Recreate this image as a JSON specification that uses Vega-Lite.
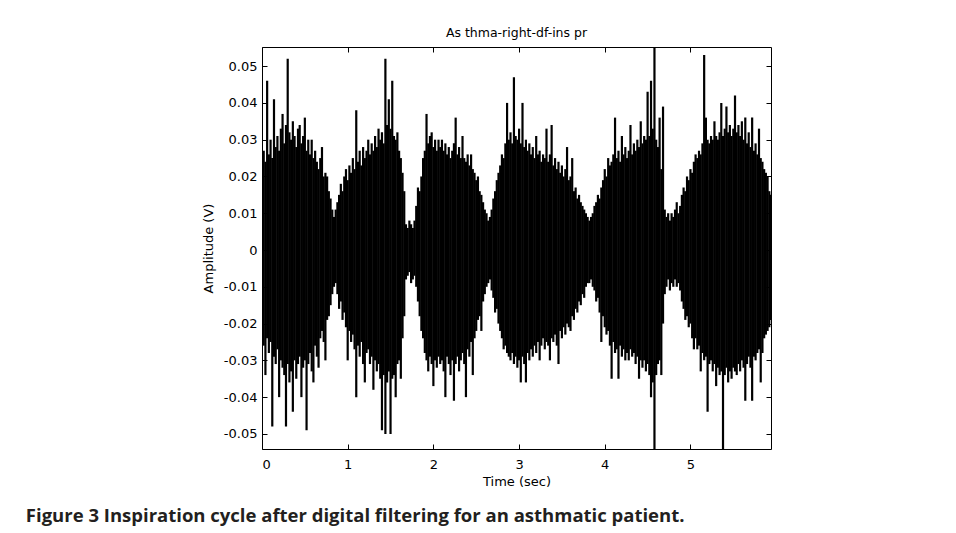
{
  "$schema": "https://vega.github.io/schema/vega-lite/v6.json",
  "background": "white",
  "padding": {"left": 25, "top": 26, "right": 5, "bottom": 5},
  "title": {"text": "Figure 3 Inspiration cycle after digital filtering for an asthmatic patient.", "orient": "bottom", "anchor": "start", "frame": "bounds", "font": "Open Sans", "fontSize": 18.5, "fontWeight": "bold", "color": "#231f20", "dx": -176, "offset": 18},
  "config": {"view": {"stroke": "black", "strokeWidth": 1}, "font": "DejaVu Sans"},
  "vconcat": [
    {
      "width": 509,
      "height": 402,
      "title": {"text": "As thma-right-df-ins pr", "font": "DejaVu Sans", "fontSize": 12.5, "fontWeight": "normal", "color": "black", "offset": 5},
      "data": {"values": [
        {"t":0.00,"h":0.022,"l":-0.020},{"t":0.02,"h":0.027,"l":-0.026},{"t":0.04,"h":0.024,"l":-0.034},{"t":0.06,"h":0.046,"l":-0.024},{"t":0.08,"h":0.026,"l":-0.028},
        {"t":0.10,"h":0.030,"l":-0.025},{"t":0.12,"h":0.025,"l":-0.048},{"t":0.14,"h":0.041,"l":-0.029},{"t":0.16,"h":0.028,"l":-0.031},{"t":0.18,"h":0.031,"l":-0.027},
        {"t":0.20,"h":0.027,"l":-0.040},{"t":0.22,"h":0.033,"l":-0.030},{"t":0.24,"h":0.037,"l":-0.032},{"t":0.26,"h":0.029,"l":-0.034},{"t":0.28,"h":0.034,"l":-0.048},
        {"t":0.30,"h":0.052,"l":-0.031},{"t":0.32,"h":0.032,"l":-0.036},{"t":0.34,"h":0.030,"l":-0.033},{"t":0.36,"h":0.035,"l":-0.044},{"t":0.38,"h":0.031,"l":-0.030},
        {"t":0.40,"h":0.028,"l":-0.035},{"t":0.42,"h":0.033,"l":-0.031},{"t":0.44,"h":0.034,"l":-0.029},{"t":0.46,"h":0.029,"l":-0.040},{"t":0.48,"h":0.031,"l":-0.032},
        {"t":0.50,"h":0.036,"l":-0.030},{"t":0.52,"h":0.027,"l":-0.049},{"t":0.54,"h":0.030,"l":-0.031},{"t":0.56,"h":0.026,"l":-0.028},{"t":0.58,"h":0.030,"l":-0.033},
        {"t":0.60,"h":0.025,"l":-0.036},{"t":0.62,"h":0.027,"l":-0.026},{"t":0.64,"h":0.024,"l":-0.029},{"t":0.66,"h":0.022,"l":-0.032},{"t":0.68,"h":0.025,"l":-0.024},
        {"t":0.70,"h":0.028,"l":-0.022},{"t":0.72,"h":0.020,"l":-0.025},{"t":0.74,"h":0.021,"l":-0.030},{"t":0.76,"h":0.020,"l":-0.019},{"t":0.78,"h":0.016,"l":-0.018},
        {"t":0.80,"h":0.014,"l":-0.015},{"t":0.82,"h":0.011,"l":-0.012},{"t":0.84,"h":0.009,"l":-0.010},{"t":0.86,"h":0.011,"l":-0.009},{"t":0.88,"h":0.013,"l":-0.012},
        {"t":0.90,"h":0.015,"l":-0.016},{"t":0.92,"h":0.018,"l":-0.014},{"t":0.94,"h":0.016,"l":-0.019},{"t":0.96,"h":0.020,"l":-0.017},{"t":0.98,"h":0.022,"l":-0.021},
        {"t":1.00,"h":0.019,"l":-0.030},{"t":1.02,"h":0.023,"l":-0.022},{"t":1.04,"h":0.021,"l":-0.025},{"t":1.06,"h":0.025,"l":-0.023},{"t":1.08,"h":0.022,"l":-0.027},
        {"t":1.10,"h":0.038,"l":-0.040},{"t":1.12,"h":0.024,"l":-0.026},{"t":1.14,"h":0.027,"l":-0.029},{"t":1.16,"h":0.023,"l":-0.025},{"t":1.18,"h":0.028,"l":-0.031},
        {"t":1.20,"h":0.025,"l":-0.036},{"t":1.22,"h":0.027,"l":-0.028},{"t":1.24,"h":0.030,"l":-0.027},{"t":1.26,"h":0.026,"l":-0.031},{"t":1.28,"h":0.029,"l":-0.029},
        {"t":1.30,"h":0.027,"l":-0.038},{"t":1.32,"h":0.031,"l":-0.030},{"t":1.34,"h":0.028,"l":-0.033},{"t":1.36,"h":0.033,"l":-0.031},{"t":1.38,"h":0.030,"l":-0.035},
        {"t":1.40,"h":0.032,"l":-0.049},{"t":1.42,"h":0.029,"l":-0.034},{"t":1.44,"h":0.052,"l":-0.050},{"t":1.46,"h":0.034,"l":-0.036},{"t":1.48,"h":0.041,"l":-0.033},
        {"t":1.50,"h":0.033,"l":-0.050},{"t":1.52,"h":0.046,"l":-0.035},{"t":1.54,"h":0.031,"l":-0.034},{"t":1.56,"h":0.030,"l":-0.040},{"t":1.58,"h":0.032,"l":-0.031},
        {"t":1.60,"h":0.027,"l":-0.030},{"t":1.62,"h":0.025,"l":-0.035},{"t":1.64,"h":0.021,"l":-0.024},{"t":1.66,"h":0.016,"l":-0.018},{"t":1.68,"h":0.007,"l":-0.008},
        {"t":1.70,"h":0.006,"l":-0.007},{"t":1.72,"h":0.008,"l":-0.006},{"t":1.74,"h":0.007,"l":-0.009},{"t":1.76,"h":0.006,"l":-0.008},{"t":1.78,"h":0.008,"l":-0.007},
        {"t":1.80,"h":0.012,"l":-0.010},{"t":1.82,"h":0.017,"l":-0.014},{"t":1.84,"h":0.016,"l":-0.018},{"t":1.86,"h":0.020,"l":-0.022},{"t":1.88,"h":0.025,"l":-0.024},
        {"t":1.90,"h":0.027,"l":-0.028},{"t":1.92,"h":0.037,"l":-0.030},{"t":1.94,"h":0.029,"l":-0.033},{"t":1.96,"h":0.031,"l":-0.029},{"t":1.98,"h":0.032,"l":-0.031},
        {"t":2.00,"h":0.028,"l":-0.037},{"t":2.02,"h":0.030,"l":-0.030},{"t":2.04,"h":0.027,"l":-0.032},{"t":2.06,"h":0.030,"l":-0.029},{"t":2.08,"h":0.028,"l":-0.031},
        {"t":2.10,"h":0.030,"l":-0.030},{"t":2.12,"h":0.027,"l":-0.033},{"t":2.14,"h":0.029,"l":-0.040},{"t":2.16,"h":0.026,"l":-0.029},{"t":2.18,"h":0.028,"l":-0.031},
        {"t":2.20,"h":0.025,"l":-0.034},{"t":2.22,"h":0.027,"l":-0.030},{"t":2.24,"h":0.029,"l":-0.041},{"t":2.26,"h":0.036,"l":-0.031},{"t":2.28,"h":0.026,"l":-0.029},
        {"t":2.30,"h":0.028,"l":-0.033},{"t":2.32,"h":0.025,"l":-0.030},{"t":2.34,"h":0.031,"l":-0.028},{"t":2.36,"h":0.025,"l":-0.031},{"t":2.38,"h":0.024,"l":-0.040},
        {"t":2.40,"h":0.026,"l":-0.027},{"t":2.42,"h":0.023,"l":-0.029},{"t":2.44,"h":0.026,"l":-0.025},{"t":2.46,"h":0.022,"l":-0.034},{"t":2.48,"h":0.021,"l":-0.024},
        {"t":2.50,"h":0.019,"l":-0.022},{"t":2.52,"h":0.020,"l":-0.019},{"t":2.54,"h":0.016,"l":-0.018},{"t":2.56,"h":0.015,"l":-0.022},{"t":2.58,"h":0.013,"l":-0.014},
        {"t":2.60,"h":0.011,"l":-0.012},{"t":2.62,"h":0.010,"l":-0.010},{"t":2.64,"h":0.008,"l":-0.009},{"t":2.66,"h":0.009,"l":-0.008},{"t":2.68,"h":0.011,"l":-0.011},
        {"t":2.70,"h":0.014,"l":-0.013},{"t":2.72,"h":0.016,"l":-0.017},{"t":2.74,"h":0.019,"l":-0.016},{"t":2.76,"h":0.021,"l":-0.020},{"t":2.78,"h":0.023,"l":-0.022},
        {"t":2.80,"h":0.026,"l":-0.024},{"t":2.82,"h":0.025,"l":-0.027},{"t":2.84,"h":0.029,"l":-0.026},{"t":2.86,"h":0.040,"l":-0.028},{"t":2.88,"h":0.030,"l":-0.029},
        {"t":2.90,"h":0.032,"l":-0.030},{"t":2.92,"h":0.029,"l":-0.028},{"t":2.94,"h":0.047,"l":-0.031},{"t":2.96,"h":0.031,"l":-0.029},{"t":2.98,"h":0.030,"l":-0.032},
        {"t":3.00,"h":0.033,"l":-0.030},{"t":3.02,"h":0.029,"l":-0.036},{"t":3.04,"h":0.040,"l":-0.029},{"t":3.06,"h":0.028,"l":-0.031},{"t":3.08,"h":0.030,"l":-0.036},
        {"t":3.10,"h":0.027,"l":-0.028},{"t":3.12,"h":0.029,"l":-0.030},{"t":3.14,"h":0.026,"l":-0.027},{"t":3.16,"h":0.028,"l":-0.029},{"t":3.18,"h":0.025,"l":-0.026},
        {"t":3.20,"h":0.031,"l":-0.028},{"t":3.22,"h":0.026,"l":-0.025},{"t":3.24,"h":0.027,"l":-0.030},{"t":3.26,"h":0.024,"l":-0.026},{"t":3.28,"h":0.026,"l":-0.024},
        {"t":3.30,"h":0.025,"l":-0.027},{"t":3.32,"h":0.033,"l":-0.025},{"t":3.34,"h":0.024,"l":-0.026},{"t":3.36,"h":0.026,"l":-0.030},{"t":3.38,"h":0.034,"l":-0.024},
        {"t":3.40,"h":0.023,"l":-0.025},{"t":3.42,"h":0.025,"l":-0.023},{"t":3.44,"h":0.022,"l":-0.026},{"t":3.46,"h":0.024,"l":-0.031},{"t":3.48,"h":0.021,"l":-0.022},
        {"t":3.50,"h":0.023,"l":-0.024},{"t":3.52,"h":0.020,"l":-0.021},{"t":3.54,"h":0.022,"l":-0.023},{"t":3.56,"h":0.028,"l":-0.020},{"t":3.58,"h":0.019,"l":-0.021},
        {"t":3.60,"h":0.020,"l":-0.022},{"t":3.62,"h":0.025,"l":-0.018},{"t":3.64,"h":0.016,"l":-0.019},{"t":3.66,"h":0.017,"l":-0.016},{"t":3.68,"h":0.014,"l":-0.017},
        {"t":3.70,"h":0.015,"l":-0.014},{"t":3.72,"h":0.013,"l":-0.015},{"t":3.74,"h":0.012,"l":-0.012},{"t":3.76,"h":0.011,"l":-0.013},{"t":3.78,"h":0.010,"l":-0.010},
        {"t":3.80,"h":0.009,"l":-0.009},{"t":3.82,"h":0.008,"l":-0.009},{"t":3.84,"h":0.009,"l":-0.008},{"t":3.86,"h":0.010,"l":-0.010},{"t":3.88,"h":0.012,"l":-0.011},
        {"t":3.90,"h":0.013,"l":-0.014},{"t":3.92,"h":0.015,"l":-0.013},{"t":3.94,"h":0.014,"l":-0.017},{"t":3.96,"h":0.017,"l":-0.025},{"t":3.98,"h":0.019,"l":-0.018},
        {"t":4.00,"h":0.022,"l":-0.021},{"t":4.02,"h":0.020,"l":-0.023},{"t":4.04,"h":0.025,"l":-0.022},{"t":4.06,"h":0.023,"l":-0.026},{"t":4.08,"h":0.024,"l":-0.035},
        {"t":4.10,"h":0.026,"l":-0.025},{"t":4.12,"h":0.036,"l":-0.028},{"t":4.14,"h":0.025,"l":-0.027},{"t":4.16,"h":0.027,"l":-0.035},{"t":4.18,"h":0.024,"l":-0.026},
        {"t":4.20,"h":0.031,"l":-0.029},{"t":4.22,"h":0.026,"l":-0.027},{"t":4.24,"h":0.028,"l":-0.030},{"t":4.26,"h":0.025,"l":-0.028},{"t":4.28,"h":0.027,"l":-0.030},
        {"t":4.30,"h":0.034,"l":-0.027},{"t":4.32,"h":0.026,"l":-0.029},{"t":4.34,"h":0.029,"l":-0.028},{"t":4.36,"h":0.027,"l":-0.031},{"t":4.38,"h":0.030,"l":-0.029},
        {"t":4.40,"h":0.028,"l":-0.035},{"t":4.42,"h":0.035,"l":-0.030},{"t":4.44,"h":0.029,"l":-0.032},{"t":4.46,"h":0.031,"l":-0.030},{"t":4.48,"h":0.030,"l":-0.033},
        {"t":4.50,"h":0.043,"l":-0.031},{"t":4.52,"h":0.031,"l":-0.034},{"t":4.54,"h":0.046,"l":-0.040},{"t":4.56,"h":0.033,"l":-0.036},{"t":4.58,"h":0.056,"l":-0.060},
        {"t":4.60,"h":0.030,"l":-0.034},{"t":4.62,"h":0.028,"l":-0.031},{"t":4.64,"h":0.036,"l":-0.030},{"t":4.66,"h":0.022,"l":-0.034},{"t":4.68,"h":0.039,"l":-0.020},
        {"t":4.70,"h":0.011,"l":-0.012},{"t":4.72,"h":0.009,"l":-0.010},{"t":4.74,"h":0.010,"l":-0.008},{"t":4.76,"h":0.008,"l":-0.011},{"t":4.78,"h":0.010,"l":-0.009},
        {"t":4.80,"h":0.009,"l":-0.010},{"t":4.82,"h":0.011,"l":-0.008},{"t":4.84,"h":0.013,"l":-0.010},{"t":4.86,"h":0.010,"l":-0.009},{"t":4.88,"h":0.012,"l":-0.011},
        {"t":4.90,"h":0.015,"l":-0.014},{"t":4.92,"h":0.017,"l":-0.016},{"t":4.94,"h":0.016,"l":-0.019},{"t":4.96,"h":0.020,"l":-0.018},{"t":4.98,"h":0.019,"l":-0.021},
        {"t":5.00,"h":0.022,"l":-0.020},{"t":5.02,"h":0.021,"l":-0.024},{"t":5.04,"h":0.024,"l":-0.027},{"t":5.06,"h":0.026,"l":-0.024},{"t":5.08,"h":0.025,"l":-0.027},
        {"t":5.10,"h":0.027,"l":-0.026},{"t":5.12,"h":0.026,"l":-0.033},{"t":5.14,"h":0.029,"l":-0.028},{"t":5.16,"h":0.053,"l":-0.030},{"t":5.18,"h":0.036,"l":-0.029},
        {"t":5.20,"h":0.030,"l":-0.044},{"t":5.22,"h":0.029,"l":-0.031},{"t":5.24,"h":0.031,"l":-0.030},{"t":5.26,"h":0.030,"l":-0.033},{"t":5.28,"h":0.035,"l":-0.031},
        {"t":5.30,"h":0.031,"l":-0.037},{"t":5.32,"h":0.030,"l":-0.032},{"t":5.34,"h":0.032,"l":-0.034},{"t":5.36,"h":0.040,"l":-0.033},{"t":5.38,"h":0.031,"l":-0.060},
        {"t":5.40,"h":0.033,"l":-0.034},{"t":5.42,"h":0.039,"l":-0.032},{"t":5.44,"h":0.032,"l":-0.036},{"t":5.46,"h":0.034,"l":-0.033},{"t":5.48,"h":0.031,"l":-0.035},
        {"t":5.50,"h":0.033,"l":-0.032},{"t":5.52,"h":0.042,"l":-0.033},{"t":5.54,"h":0.032,"l":-0.034},{"t":5.56,"h":0.034,"l":-0.031},{"t":5.58,"h":0.031,"l":-0.033},
        {"t":5.60,"h":0.035,"l":-0.030},{"t":5.62,"h":0.030,"l":-0.032},{"t":5.64,"h":0.036,"l":-0.041},{"t":5.66,"h":0.029,"l":-0.031},{"t":5.68,"h":0.032,"l":-0.029},
        {"t":5.70,"h":0.028,"l":-0.032},{"t":5.72,"h":0.036,"l":-0.041},{"t":5.74,"h":0.027,"l":-0.029},{"t":5.76,"h":0.029,"l":-0.030},{"t":5.78,"h":0.026,"l":-0.028},
        {"t":5.80,"h":0.033,"l":-0.027},{"t":5.82,"h":0.025,"l":-0.036},{"t":5.84,"h":0.024,"l":-0.028},{"t":5.86,"h":0.022,"l":-0.024},{"t":5.88,"h":0.021,"l":-0.023},
        {"t":5.90,"h":0.020,"l":-0.022},{"t":5.92,"h":0.016,"l":-0.021},{"t":5.94,"h":0.015,"l":-0.019}
      ]},
      "layer": [
        {
          "mark": {"type": "rule", "strokeWidth": 2.2, "color": "black", "clip": true},
          "encoding": {
            "x": {"field": "t", "type": "quantitative", "scale": {"domain": [0, 5.94], "nice": false, "zero": false},
                  "axis": {"orient": "bottom", "values": [0, 1, 2, 3, 4, 5], "format": "d", "title": "Time (sec)", "grid": false, "domain": false,
                           "tickSize": -5, "tickColor": "black", "labelPadding": 14, "labelFont": "DejaVu Sans", "labelFontSize": 13, "labelColor": "black",
                           "titleFont": "DejaVu Sans", "titleFontSize": 13, "titleFontWeight": "normal", "titleColor": "black", "titlePadding": 4}},
            "y": {"field": "h", "type": "quantitative", "scale": {"domain": [-0.0541, 0.0552], "nice": false, "zero": false},
                  "axis": {"orient": "left", "values": [-0.05, -0.04, -0.03, -0.02, -0.01, 0, 0.01, 0.02, 0.03, 0.04, 0.05],
                           "labelExpr": "replace(format(datum.value, '.2~f'), '−', '-')", "title": "Amplitude (V)", "grid": false, "domain": false,
                           "tickSize": -5, "tickColor": "black", "labelPadding": 10, "labelFont": "DejaVu Sans", "labelFontSize": 13, "labelColor": "black",
                           "titleFont": "DejaVu Sans", "titleFontSize": 13, "titleFontWeight": "normal", "titleColor": "black", "titlePadding": 8}},
            "y2": {"field": "l"}
          }
        },
        {
          "mark": {"type": "rule", "opacity": 0},
          "encoding": {
            "x": {"field": "t", "type": "quantitative",
                  "axis": {"orient": "top", "values": [0, 1, 2, 3, 4, 5], "labels": false, "title": null, "grid": false, "domain": false, "tickSize": -5, "tickColor": "black"}},
            "y": {"field": "h", "type": "quantitative",
                  "axis": {"orient": "right", "values": [-0.05, -0.04, -0.03, -0.02, -0.01, 0, 0.01, 0.02, 0.03, 0.04, 0.05], "labels": false, "title": null, "grid": false, "domain": false, "tickSize": -5, "tickColor": "black"}},
            "y2": {"field": "l"}
          }
        }
      ],
      "resolve": {"axis": {"x": "independent", "y": "independent"}}
    }
  ]
}
